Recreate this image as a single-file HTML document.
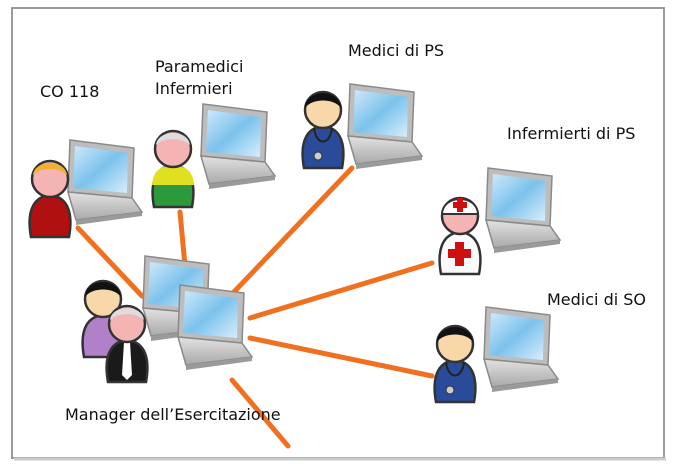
<!DOCTYPE html>
<html><head><meta charset="utf-8"><style>
html,body{margin:0;padding:0;background:#fff;}
svg{display:block;}
text{font-family:"DejaVu Sans","Liberation Sans",sans-serif;fill:#111;font-size:16px;}
</style></head><body>
<svg width="676" height="475" viewBox="0 0 676 475" xmlns="http://www.w3.org/2000/svg">
<defs>
<linearGradient id="scr" x1="0" y1="0" x2="1" y2="1"><stop offset="0" stop-color="#cfe9fb"/><stop offset="0.5" stop-color="#7cc2ec"/><stop offset="1" stop-color="#d8eefc"/></linearGradient>
<linearGradient id="base" x1="0" y1="0" x2="0" y2="1"><stop offset="0" stop-color="#e2e2e2"/><stop offset="1" stop-color="#a9a9a9"/></linearGradient>
<g id="laptop">
<polygon points="8,0 72,8 70,58 6,52" fill="#bdbdbd" stroke="#8a8a8a" stroke-width="1.5"/>
<polygon points="13,6 66,13 65,53 11,48" fill="url(#scr)"/>
<polygon points="6,52 70,58 80,72 14,80" fill="url(#base)" stroke="#8a8a8a" stroke-width="1.5"/>
<polygon points="14,80 80,72 80,76 14,85" fill="#9a9a9a"/>
</g>
<g id="body">
<path d="M6,82 C2,60 6,42 25,40 C44,42 48,60 44,82 Z" stroke="#333" stroke-width="2.5"/>
</g>
</defs>
<!-- frame -->
<rect x="12" y="8" width="652" height="450" fill="#fff" stroke="#9a9a9a" stroke-width="2"/>
<line x1="14" y1="459" x2="666" y2="459" stroke="#ccc" stroke-width="3"/>
<!-- connectors -->
<g stroke="#f07020" stroke-width="5" stroke-linecap="round">
<line x1="78" y1="228" x2="142" y2="296"/>
<line x1="180" y1="212" x2="185" y2="266"/>
<line x1="352" y1="168" x2="232" y2="294"/>
<line x1="432" y1="263" x2="250" y2="318"/>
<line x1="250" y1="338" x2="432" y2="376"/>
<line x1="232" y1="380" x2="288" y2="446"/>
</g>
<!-- laptops -->
<use href="#laptop" x="62" y="140"/>
<use href="#laptop" x="195" y="104"/>
<use href="#laptop" x="342" y="84"/>
<use href="#laptop" x="480" y="168"/>
<use href="#laptop" x="478" y="307"/>
<use href="#laptop" x="137" y="256"/>
<use href="#laptop" x="172" y="285"/>
<!-- CO118 person -->
<g transform="translate(25,155)">
<use href="#body" fill="#b01010"/>
<circle cx="25" cy="24" r="18" fill="#f4b4b4" stroke="#333" stroke-width="2.5"/>
<path d="M8,20 C10,4 40,4 42,20 C34,12 16,12 8,20Z" fill="#f0b030"/>
</g>
<!-- Paramedici -->
<g transform="translate(148,125)">
<path d="M6,82 C2,60 6,42 25,40 C44,42 48,60 44,82 Z" fill="#2c9a3c" stroke="#333" stroke-width="2.5"/>
<path d="M4,60 C5,46 12,41 25,40 C38,41 45,46 46,60 Z" fill="#e0e020"/>
<circle cx="25" cy="24" r="18" fill="#f4b4b4" stroke="#333" stroke-width="2.5"/>
<path d="M8,20 C10,4 40,4 42,20 C34,12 16,12 8,20Z" fill="#ddd"/>
</g>
<!-- Medici di PS -->
<g transform="translate(298,86)">
<use href="#body" fill="#2a4a9a"/>
<circle cx="25" cy="24" r="18" fill="#f8d8a8" stroke="#333" stroke-width="2.5"/>
<path d="M7,22 C8,2 42,2 43,22 C36,12 14,12 7,22Z" fill="#111"/>
<path d="M16,42 C18,60 32,60 34,42" fill="none" stroke="#222" stroke-width="2"/>
<circle cx="20" cy="70" r="4" fill="#ccc" stroke="#333"/>
</g>
<!-- Infermierti di PS -->
<g transform="translate(435,192)">
<use href="#body" fill="#fafafa"/>
<circle cx="25" cy="24" r="18" fill="#f4b4b4" stroke="#333" stroke-width="2.5"/>
<path d="M7,22 C8,2 42,2 43,22 Z" fill="#fff" stroke="#333" stroke-width="2"/>
<rect x="22" y="6" width="6" height="14" fill="#d01010"/><rect x="18" y="10" width="14" height="6" fill="#d01010"/>
<rect x="20" y="50" width="9" height="24" fill="#d01010"/><rect x="13" y="57" width="23" height="9" fill="#d01010"/>
</g>
<!-- Medici di SO -->
<g transform="translate(430,320)">
<use href="#body" fill="#2a4a9a"/>
<circle cx="25" cy="24" r="18" fill="#f8d8a8" stroke="#333" stroke-width="2.5"/>
<path d="M7,22 C8,2 42,2 43,22 C36,12 14,12 7,22Z" fill="#111"/>
<path d="M16,42 C18,60 32,60 34,42" fill="none" stroke="#222" stroke-width="2"/>
<circle cx="20" cy="70" r="4" fill="#ccc" stroke="#333"/>
</g>
<!-- Manager -->
<g transform="translate(78,275)">
<use href="#body" fill="#b080c8"/>
<circle cx="25" cy="24" r="18" fill="#f8d8a8" stroke="#333" stroke-width="2.5"/>
<path d="M7,22 C8,2 42,2 43,22 C36,12 14,12 7,22Z" fill="#111"/>
</g>
<g transform="translate(102,300)">
<use href="#body" fill="#1a1a1a"/>
<polygon points="22,42 28,42 30,75 25,80 20,75" fill="#fff"/>
<circle cx="25" cy="24" r="18" fill="#f4b4b4" stroke="#333" stroke-width="2.5"/>
<path d="M8,20 C10,4 40,4 42,20 C34,12 16,12 8,20Z" fill="#ddd"/>
</g>
<!-- labels -->
<text x="40" y="97">CO 118</text>
<text x="155" y="72">Paramedici</text>
<text x="155" y="94">Infermieri</text>
<text x="348" y="56">Medici di PS</text>
<text x="507" y="139">Infermierti di PS</text>
<text x="547" y="305">Medici di SO</text>
<text x="65" y="420">Manager dell’Esercitazione</text>
</svg>
</body></html>
